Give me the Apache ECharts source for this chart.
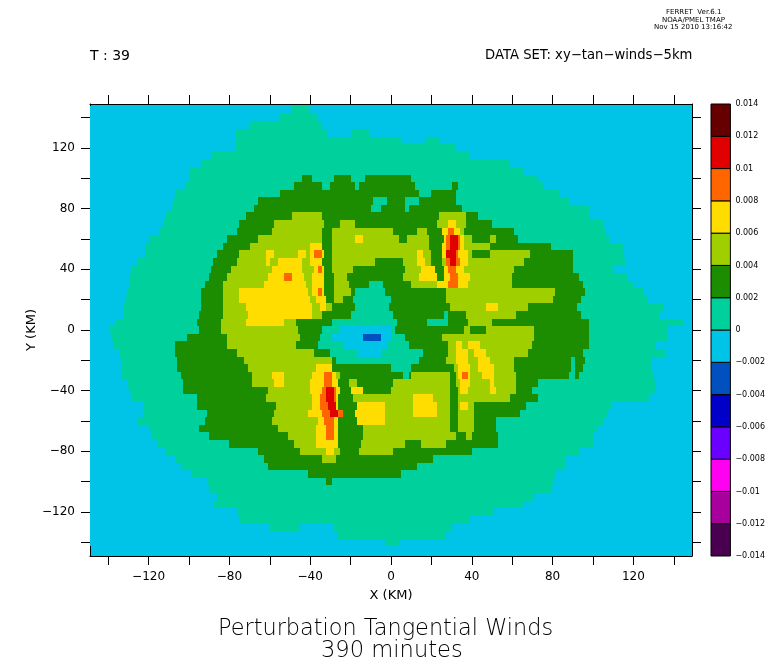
<!DOCTYPE html>
<html>
<head>
<meta charset="utf-8">
<title>Perturbation Tangential Winds</title>
<script src="https://cdn.jsdelivr.net/npm/echarts@6/dist/echarts.min.js"></script>
<style>
  html, body { margin: 0; padding: 0; background: #fff; }
  #chart { width: 768px; height: 662px; }
</style>
</head>
<body>
<div id="chart"></div>
<script>
// Contour bands, lower edge in units of 0.002 (band 2 = 0.004 to 0.006)
var bandIds = [-7, -6, -5, -4, -3, -2, -1, 0, 1, 2, 3, 4, 5, 6];
var bandColors = ['#4a0050', '#a8009c', '#ff00f0', '#6a00ff', '#0000c8', '#0050c0', '#00c3e8',
                  '#00d09c', '#1c8c00', '#a0cf00', '#ffdd00', '#ff6600', '#e00000', '#660000'];
var levelTicks = [-0.014, -0.012, -0.01, -0.008, -0.006, -0.004, -0.002, 0, 0.002, 0.004, 0.006, 0.008, 0.01, 0.012, 0.014];

var xTicks = [-140, -120, -100, -80, -60, -40, -20, 0, 20, 40, 60, 80, 100, 120, 140];
var xLabels = [-120, -80, -40, 0, 40, 80, 120];

// Y of each row of the field, 5 km apart
var rowY = [145, 140, 135, 130, 125, 120, 115, 110, 105, 100, 95, 90, 85, 80, 75, 70, 65, 60, 55, 50,
            45, 40, 35, 30, 25, 20, 15, 10, 5, 0, -5, -10, -15, -20, -25, -30, -35, -40, -45, -50,
            -55, -60, -65, -70, -75, -80, -85, -90, -95, -100, -105, -110, -115, -120, -125, -130, -135, -140];

// Each row: band, x where it ends (km), band, x where it ends, ... last band
var rowRuns = [
  [-1,-49,0,-40,-1],
  [-1,-55,0,-36,-1],
  [-1,-70,0,-34,-1],
  [-1,-77,0,-31,-1,-20,0,-11,-1],
  [-1,-77,0,5,-1,17,0,24,-1],
  [-1,-77,0,32,-1],
  [-1,-89,0,39,-1],
  [-1,-94,0,59,-1],
  [-1,-100,0,66,-1],
  [-1,-100,0,-44,1,-39,0,-28,1,-20,0,-13,1,10,0,73,-1],
  [-1,-102,0,-48,1,-34,0,-30,1,-18,0,-16,1,12,0,30,1,33,0,75,-1],
  [-1,-107,0,-55,1,14,0,20,1,32,0,83,-1],
  [-1,-108,0,-66,1,-9,0,-2,1,7,0,14,1,32,0,88,-1],
  [-1,-109,0,-68,1,-10,0,-5,1,7,0,9,1,35,0,98,-1],
  [-1,-112,0,-72,1,-49,2,-34,1,24,2,37,1,43,0,98,-1],
  [-1,-113,0,-75,1,-58,2,-33,1,-25,2,-18,1,23,2,28,3,32,2,37,1,50,0,105,-1],
  [-1,-115,0,-76,1,-59,2,-34,1,-29,2,1,1,13,2,18,1,25,3,28,4,31,3,34,2,36,1,61,0,106,-1],
  [-1,-120,0,-81,1,-66,2,-34,1,-29,2,-18,3,-14,2,4,1,8,2,19,1,26,3,27,4,29,5,33,4,34,3,36,2,40,1,49,2,52,1,63,0,108,-1],
  [-1,-122,0,-83,1,-70,2,-40,3,-34,1,-29,2,19,1,25,3,27,4,29,5,33,4,34,3,36,2,49,1,79,0,115,-1],
  [-1,-122,0,-86,1,-75,2,-62,3,-58,2,-46,3,-42,2,-40,3,-38,4,-34,3,-33,1,-29,2,13,3,16,2,20,1,25,3,27,5,32,4,33,3,38,2,40,1,49,2,69,1,90,0,115,-1],
  [-1,-125,0,-88,1,-76,2,-62,3,-60,2,-56,3,-44,2,-40,3,-34,1,-29,2,-8,1,6,2,13,3,17,2,20,1,25,2,27,4,29,5,32,4,34,3,38,2,66,1,90,0,116,-1],
  [-1,-128,0,-89,1,-79,2,-59,3,-44,2,-38,3,-36,4,-34,3,-33,1,-29,2,-19,1,7,2,15,3,22,1,26,3,28,4,32,3,36,2,61,1,90,0,110,-1],
  [-1,-129,0,-90,1,-81,2,-61,3,-53,4,-49,3,-43,2,-39,3,-33,1,-28,2,-22,1,6,2,14,3,23,1,26,3,29,4,33,3,39,2,60,1,93,0,117,-1],
  [-1,-129,0,-92,1,-83,2,-63,3,-42,2,-39,3,-33,1,-28,2,-21,1,-11,0,-4,1,10,2,23,3,28,4,33,3,38,2,60,1,95,0,120,-1],
  [-1,-130,0,-94,1,-83,2,-75,3,-41,2,-39,3,-36,4,-34,3,-33,1,-28,2,-20,1,-18,0,-3,1,27,2,81,1,96,0,125,-1],
  [-1,-131,0,-94,1,-83,2,-75,3,-40,2,-37,3,-32,1,-28,2,-24,1,-19,0,0,1,27,2,80,1,94,0,127,-1],
  [-1,-132,0,-94,1,-83,2,-72,3,-39,2,-35,3,-32,2,-29,1,-18,0,-1,1,29,2,47,3,53,2,68,1,92,0,135,-1],
  [-1,-132,0,-95,1,-83,2,-71,3,-39,2,-34,1,-20,0,1,1,26,0,28,1,37,2,62,1,94,0,133,-1],
  [-1,-136,0,-96,1,-84,2,-72,3,-53,2,-47,1,-29,0,3,1,18,0,28,1,38,2,50,1,98,0,145,-1],
  [-1,-139,0,-95,1,-84,2,-46,1,-34,0,-25,-1,0,0,2,1,36,2,39,1,47,2,71,1,98,0,137,-1],
  [-1,-138,0,-101,1,-81,2,-45,1,-35,0,-29,-1,-14,-2,-5,-1,0,0,7,1,25,2,71,1,98,0,137,-1],
  [-1,-137,0,-107,1,-81,2,-47,1,-36,0,-24,-1,-2,0,9,1,28,2,32,3,35,2,38,3,44,2,70,1,98,0,131,-1],
  [-1,-134,0,-107,1,-76,2,-38,1,-30,0,-17,-1,-5,0,16,1,28,2,32,3,38,2,41,3,47,2,68,1,95,0,136,-1],
  [-1,-133,0,-106,1,-73,2,-29,1,-27,0,14,1,27,2,32,3,38,2,43,3,49,2,61,1,89,0,91,1,96,0,129,-1],
  [-1,-133,0,-106,1,-71,2,-37,3,-29,1,0,0,10,1,31,2,33,3,39,2,43,3,51,2,61,1,89,0,91,1,95,0,129,-1],
  [-1,-133,0,-104,1,-69,2,-59,3,-53,2,-39,3,-33,4,-29,3,-27,2,-25,1,6,0,9,1,10,2,29,1,32,2,33,3,35,4,38,3,39,2,45,3,51,2,62,1,88,0,91,1,93,0,130,-1],
  [-1,-130,0,-103,1,-69,2,-58,3,-53,2,-40,3,-33,4,-29,3,-26,1,-21,2,-17,1,1,2,29,1,32,2,34,3,39,2,49,3,51,2,62,1,73,0,131,-1],
  [-1,-129,0,-103,1,-61,2,-40,3,-34,4,-32,5,-28,4,-27,3,-25,1,-20,3,-14,1,0,2,29,1,33,2,34,3,38,2,49,3,52,2,62,1,70,0,131,-1],
  [-1,-128,0,-96,1,-62,2,-39,3,-35,4,-32,5,-28,4,-27,3,-26,1,-19,2,11,3,21,2,29,1,33,2,59,1,73,0,128,-1],
  [-1,-123,0,-96,1,-57,2,-39,3,-35,4,-31,5,-27,3,-26,1,-17,3,-3,2,11,3,23,2,29,1,33,2,34,3,38,2,41,1,67,0,109,-1],
  [-1,-123,0,-91,1,-58,2,-41,3,-34,4,-30,5,-26,4,-24,1,-18,3,-3,2,11,3,23,2,29,1,33,2,41,1,64,0,107,-1],
  [-1,-125,0,-92,1,-59,2,-36,3,-33,4,-28,3,-26,1,-17,3,-3,2,29,1,33,2,41,1,52,0,105,-1],
  [-1,-120,0,-95,1,-56,2,-37,3,-32,4,-28,3,-26,1,-14,2,29,1,33,2,41,1,52,0,102,-1],
  [-1,-119,0,-90,1,-51,2,-37,3,-32,4,-28,3,-26,1,-14,2,32,1,37,2,40,1,53,0,100,-1],
  [-1,-116,0,-80,1,-48,2,-37,3,-26,1,-15,2,7,1,15,2,27,1,53,0,100,-1],
  [-1,-112,0,-66,1,-45,2,-32,3,-28,2,-25,1,-16,2,1,1,40,0,93,-1],
  [-1,-107,0,-63,1,-34,2,-27,1,21,0,86,-1],
  [-1,-104,0,-61,1,13,0,86,-1],
  [-1,-99,0,-41,1,5,0,81,-1],
  [-1,-91,0,-32,1,-29,0,80,-1],
  [-1,-90,0,79,-1],
  [-1,-86,0,71,-1],
  [-1,-88,0,66,-1],
  [-1,-76,0,51,-1],
  [-1,-75,0,39,-1],
  [-1,-60,0,-45,-1,-28,0,30,-1],
  [-1,-26,0,27,-1],
  [-1,-3,0,4,-1]
];

var xLimit = 149;
var yLimit = 149;
var rowHalf = 2.5;

function colorOfBand(id) {
    return bandColors[bandIds.indexOf(id)];
}

// Expand the runs to [xStart, xEnd, y, band]
function buildField() {
    var out = [];
    rowRuns.forEach(function (runs, r) {
        var start = -xLimit;
        for (var i = 0; i < runs.length; i += 2) {
            var end = i + 1 < runs.length ? runs[i + 1] : xLimit;
            out.push([start, end, rowY[r], runs[i]]);
            start = end;
        }
    });
    return out;
}

function renderRun(params, api) {
    var a = api.coord([api.value(0), api.value(2) + rowHalf]);
    var b = api.coord([api.value(1), api.value(2) - rowHalf]);
    var x0 = Math.round(a[0]), x1 = Math.round(b[0]);
    var y0 = Math.round(a[1]), y1 = Math.round(b[1]);
    return {
        type: 'rect',
        shape: { x: x0, y: y0, width: x1 - x0, height: y1 - y0 },
        style: { fill: colorOfBand(api.value(3)) }
    };
}

// One box of the colour key per band
function renderKey(params, api) {
    var a = api.coord([0, api.value(1)]);
    var b = api.coord([1, api.value(0)]);
    return {
        type: 'rect',
        shape: { x: a[0], y: a[1], width: b[0] - a[0], height: b[1] - a[1] },
        style: { fill: colorOfBand(api.value(2)), stroke: '#000', lineWidth: 1 }
    };
}

var keyData = bandIds.map(function (id, i) {
    return [levelTicks[i], levelTicks[i + 1], id];
});

function km(v) {
    return String(v).replace('-', '\u2212');
}

function frameAxis(pos, limit, extra) {
    var ax = {
        type: 'value',
        position: pos,
        min: -limit,
        max: limit,
        gridIndex: 0,
        splitLine: { show: false },
        axisLine: { show: true, onZero: false, lineStyle: { color: '#000', width: 1 } },
        axisTick: { show: true, inside: false, length: 9, customValues: xTicks, lineStyle: { color: '#000', width: 1 } },
        axisLabel: { show: false }
    };
    return Object.assign(ax, extra || {});
}

var tickFont = { color: '#000', fontFamily: 'DejaVu Sans', fontSize: 12 };

var option = {
    animation: false,
    backgroundColor: '#fff',
    grid: [
        { left: 90, top: 104, width: 602, height: 452, show: true, backgroundColor: colorOfBand(-1), borderWidth: 0 },
        { left: 711, top: 104, width: 21, height: 452 }
    ],
    xAxis: [
        frameAxis('bottom', xLimit, {
            axisLabel: Object.assign({ show: true, margin: 15, customValues: xLabels, formatter: km }, tickFont),
            name: 'X (KM)',
            nameLocation: 'middle',
            nameGap: 33,
            nameTextStyle: { color: '#000', fontFamily: 'DejaVu Sans', fontSize: 13 }
        }),
        frameAxis('top', xLimit),
        { type: 'value', gridIndex: 1, min: 0, max: 1, show: false }
    ],
    yAxis: [
        frameAxis('left', yLimit, {
            axisLabel: Object.assign({ show: true, margin: 15, customValues: xLabels, formatter: km }, tickFont),
            name: 'Y (KM)',
            nameLocation: 'middle',
            nameGap: 52,
            nameMoveOverlap: false,
            nameTextStyle: { color: '#000', fontFamily: 'DejaVu Sans', fontSize: 13 }
        }),
        frameAxis('right', yLimit),
        {
            type: 'value',
            gridIndex: 1,
            position: 'right',
            min: -0.014,
            max: 0.014,
            splitLine: { show: false },
            axisLine: { show: false },
            axisTick: { show: false },
            axisLabel: {
                margin: 5,
                color: '#000',
                fontFamily: 'DejaVu Sans',
                fontSize: 8,
                customValues: levelTicks,
                formatter: function (v) { return km(+v.toFixed(3)); }
            }
        }
    ],
    series: [
        {
            type: 'custom',
            coordinateSystem: 'cartesian2d',
            xAxisIndex: 0,
            yAxisIndex: 0,
            clip: true,
            silent: true,
            renderItem: renderRun,
            data: buildField(),
            z: 1
        },
        {
            type: 'custom',
            coordinateSystem: 'cartesian2d',
            xAxisIndex: 2,
            yAxisIndex: 2,
            silent: true,
            renderItem: renderKey,
            data: keyData
        }
    ],
    graphic: [
        { type: 'text', left: 90, top: 49, style: { text: 'T : 39', fill: '#000', font: '14px "DejaVu Sans"' } },
        { type: 'text', left: 485, top: 49, style: { text: 'DATA SET: xy\u2212tan\u2212winds\u22125km', fill: '#000', font: '13.2px "DejaVu Sans"' } },
        { type: 'text', left: 666, top: 9, style: { text: 'FERRET  Ver.6.1', fill: '#000', font: '7px "DejaVu Sans"' } },
        { type: 'text', left: 662, top: 17, style: { text: 'NOAA/PMEL TMAP', fill: '#000', font: '7px "DejaVu Sans"' } },
        { type: 'text', left: 654, top: 24, style: { text: 'Nov 15 2010 13:16:42', fill: '#000', font: '7px "DejaVu Sans"' } },
        { type: 'text', left: 218, top: 618, style: { text: 'Perturbation Tangential Winds', fill: '#000', font: '200 22.4px "DejaVu Sans"' } },
        { type: 'text', left: 321, top: 640, style: { text: '390 minutes', fill: '#000', font: '200 22.6px "DejaVu Sans"' } }
    ]
};

var chart = echarts.init(document.getElementById('chart'), null, { renderer: 'canvas' });
chart.setOption(option);
</script>
</body>
</html>
